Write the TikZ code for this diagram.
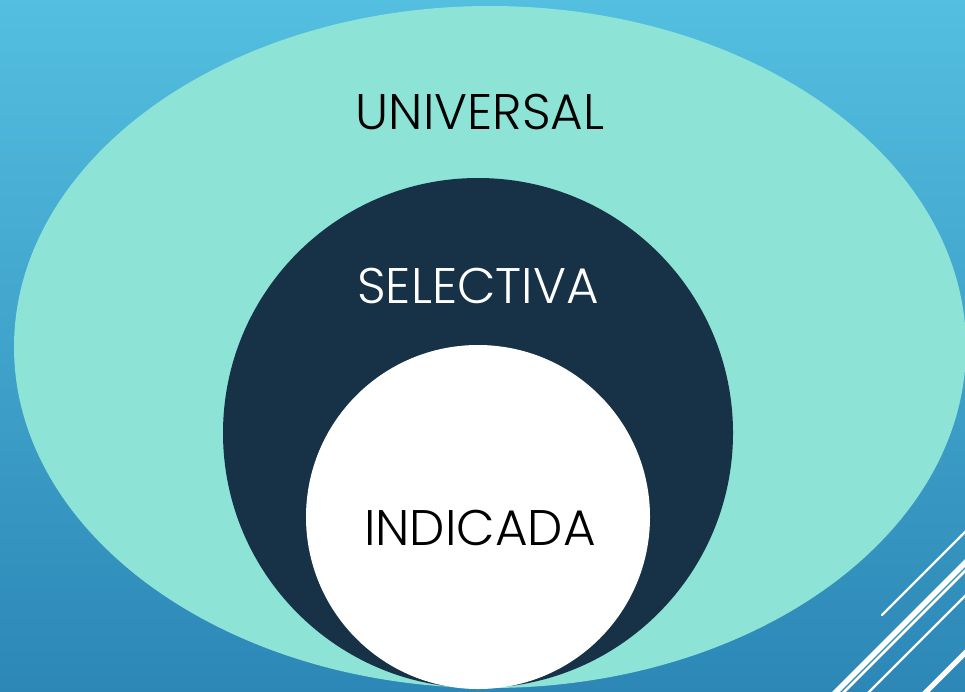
\documentclass[tikz,border=0pt]{standalone}
\usepackage{fontspec}
\setmainfont{Poppins Light}
\definecolor{bgtop}{HTML}{56C2E2}
\definecolor{bgbot}{HTML}{2A84B4}
\definecolor{teal}{HTML}{8CE3D6}
\definecolor{navy}{HTML}{173246}
\tikzset{
  lbl/.style={font=\fontsize{50}{50}\selectfont, inner sep=0pt, anchor=center},
  stripe/.style={draw=white, line cap=butt}
}
\begin{document}
\begin{tikzpicture}[x=1pt,y=-1pt]
\useasboundingbox (0,0) rectangle (965,691);
\begin{scope}
\clip (0,0) rectangle (965,691);
\shade[shading angle=-20, top color=bgtop, bottom color=bgbot] (-40,-40) rectangle (1005,731);
\fill[teal] (490,347) ellipse [x radius=476, y radius=341];
\node[circle, fill=navy, minimum size=510pt, inner sep=0pt] (sel) at (478,433) {};
\node[circle, fill=white, minimum size=344pt, inner sep=0pt] (ind) at (478,517) {};
\node[lbl, text=black] (tu) at (480,112) {UNIVERSAL};
\node[lbl, text=white] (ts) at (478,286) {SELECTIVA};
\node[lbl, text=black] (ti) at (480,528) {INDICADA};
\coordinate (a1) at (882,615);
\coordinate (b1) at (1000,497);
\draw[stripe, line width=2.2pt, line cap=round] (a1) -- (b1);
\draw[stripe, line width=5.5pt] (1528-720,720) -- (1000,528);
\draw[stripe, line width=2.6pt] (1536-720,720) -- (1000,536);
\draw[stripe, line width=2.2pt] (1561-720,720) -- (1000,561);
\draw[stripe, line width=5pt] (1618-720,720) -- (1000,618);
\end{scope}
\end{tikzpicture}
\end{document}
